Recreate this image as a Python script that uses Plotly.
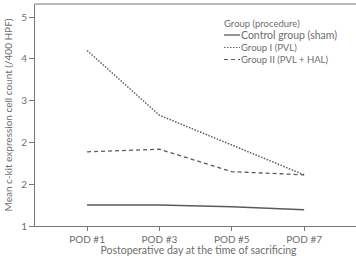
import plotly.graph_objects as go

categories = ["POD #1", "POD #3", "POD #5", "POD #7"]
control = [1.40, 1.40, 1.37, 1.31]
group1 = [4.36, 3.12, 2.55, 1.98]
group2 = [2.42, 2.47, 2.04, 1.98]
ytickvals = [1, 1.8, 2.6, 3.4, 4.2, 5]
yticktext = ["1", "2", "2", "3", "4", "5"]

FONT = "Lato"
TXT = "#6e6e6e"
LINE = "#5a5a5a"
x = list(range(len(categories)))

W, H = 362, 256
ML, MR, MT, MB = 35, 0, 4, 30
PW, PH = W - ML - MR, H - MT - MB
def px(xp): return (xp - ML) / PW
def py(yp): return 1 - (yp - MT) / PH

fig = go.Figure()
fig.add_trace(go.Scatter(x=x, y=control, mode="lines", line=dict(color=LINE, width=1.5, dash="solid"), showlegend=False))
fig.add_trace(go.Scatter(x=x, y=group1, mode="lines", line=dict(color=LINE, width=1.5, dash="1.5px,1.5px"), showlegend=False))
fig.add_trace(go.Scatter(x=x, y=group2, mode="lines", line=dict(color=LINE, width=1.3, dash="4px,3px"), showlegend=False))

fig.add_shape(type="line", xref="paper", yref="paper", x0=0, x1=1, y0=1, y1=1, line=dict(color="#777", width=1))

legend_items = [("Control group (sham)", "solid", 10.5, 1.3), ("Group I (PVL)", "1.5px,1.5px", 9.5, 1.2), ("Group II (PVL + HAL)", "4px,3px", 9.5, 1.2)]
leg_y = [35, 47.5, 59.5]
fig.add_annotation(xref="paper", yref="paper", x=px(222), y=py(23), text="Group (procedure)", showarrow=False,
                   xanchor="left", yanchor="middle", font=dict(family=FONT, size=9.5, color=TXT))
for (name, dash, fs, lw), yy in zip(legend_items, leg_y):
    fig.add_shape(type="line", xref="paper", yref="paper", x0=px(224), x1=px(240), y0=py(yy), y1=py(yy),
                  line=dict(color=LINE, width=lw, dash=dash))
    fig.add_annotation(xref="paper", yref="paper", x=px(239), y=py(yy), text=name, showarrow=False,
                       xanchor="left", yanchor="middle", font=dict(family=FONT, size=fs, color=TXT))

fig.update_layout(
    width=W, height=H,
    margin=dict(l=ML, r=MR, t=MT, b=MB, pad=0),
    paper_bgcolor="white", plot_bgcolor="white",
    font=dict(family=FONT, size=10, color=TXT),
    xaxis=dict(range=[-0.72, 3.80], tickvals=x, ticktext=categories, showgrid=False, zeroline=False,
               showline=True, linecolor="#777", linewidth=1, mirror=False, ticks="outside", ticklen=4,
               tickcolor="#777", tickfont=dict(size=10, color=TXT),
               title=dict(text="Postoperative day at the time of sacrificing", font=dict(size=10.5, color=TXT), standoff=0)),
    yaxis=dict(range=[1, 5.25], tickvals=ytickvals, ticktext=yticktext, showgrid=False, zeroline=False,
               showline=True, linecolor="#777", linewidth=1, ticks="outside", ticklen=5, tickcolor="#777",
               tickfont=dict(size=10, color=TXT),
               title=dict(text="Mean c-kit expression cell count (/400 HPF)", font=dict(size=10, color=TXT), standoff=6)),
)
fig.write_html("out.html", config={"displayModeBar": False},
               post_script="document.body.style.margin='0';document.body.style.overflow='hidden';document.documentElement.style.overflow='hidden';")
